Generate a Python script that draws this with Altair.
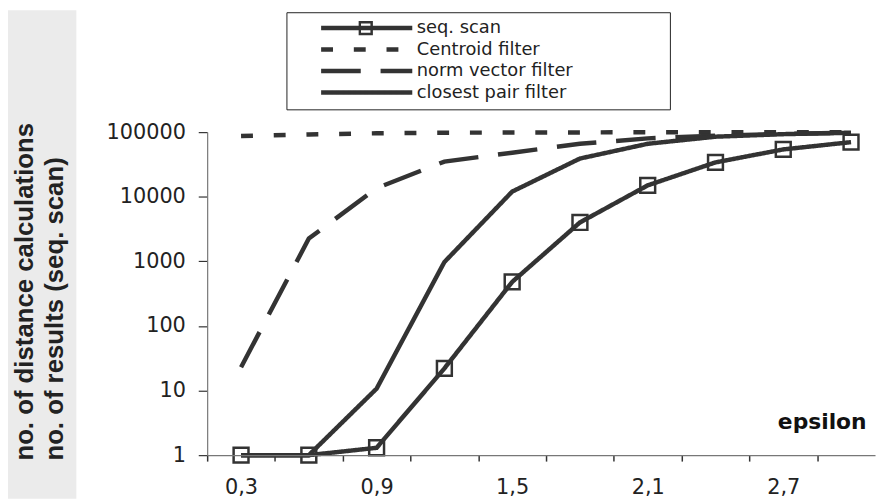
import altair as alt
import pandas as pd

# ---- data ----
x_vals = [0.3, 0.6, 0.9, 1.2, 1.5, 1.8, 2.1, 2.4, 2.7, 3.0]
seq_scan = [1, 1, 1.3, 22, 480, 4000, 15000, 34000, 54000, 70000]
centroid = [87000, 92000, 96000, 98000, 98500, 99000, 99500, 100000, 100000, 100000]
norm_vector = [23, 2250, 13600, 35000, 48000, 66000, 80000, 88000, 94000, 98000]
closest_pair = [1, 1, 10.7, 975, 12000, 39000, 66000, 85000, 93000, 98000]

series_names = ["seq. scan", "Centroid filter", "norm vector filter", "closest pair filter"]
dash_patterns = [[1, 0], [12, 21], [40, 20], [1, 0]]
y_ticks = [1, 10, 100, 1000, 10000, 100000]
x_boundaries = [0.15, 0.45, 0.75, 1.05, 1.35, 1.65, 1.95, 2.25, 2.55, 2.85]
x_label_vals = [0.3, 0.9, 1.5, 2.1, 2.7]
y_title = ["no. of distance calculations", "no. of results (seq. scan)"]
x_title = "epsilon"

rows = []
for name, vals in zip(series_names, [seq_scan, centroid, norm_vector, closest_pair]):
    for x, v in zip(x_vals, vals):
        rows.append({"epsilon": x, "value": v, "series": name})
df = pd.DataFrame(rows)
df_seq = df[df["series"] == "seq. scan"]

# ---- layout ----
W, H = 674, 326
PAD_L, PAD_T, PAD_B = 201, 123, 44
PX_PER_UNIT = 228.0
INK = "#333333"

x_scale = alt.Scale(domain=[0.15, 0.15 + W / PX_PER_UNIT], nice=False, zero=False)
y_scale = alt.Scale(type="log", domain=[1, 100000], nice=False)

center_test = "abs(datum.value*10 - round(datum.value*10)) < 0.01"
x_axis = alt.Axis(
    values=sorted(x_boundaries + x_label_vals),
    labelExpr=f"({center_test}) ? replace(format(datum.value, '.1f'), '.', ',') : ''",
    tickOpacity={"condition": {"test": center_test, "value": 0}, "value": 1},
    tickSize=6, tickColor=INK, tickWidth=1.5,
    domainColor="#777777", domainWidth=1.2,
    labelFont="DejaVu Sans", labelFontSize=21, labelColor="#222222", labelPadding=16,
    labelFlush=False, labelOverlap=False, labelBound=False,
    grid=False,
    title=x_title, titleFont="DejaVu Sans", titleFontSize=22, titleFontWeight="bold",
    titleColor="#111111", titleX=665, titleY=-27, titleAlign="right", titleBaseline="alphabetic",
    zindex=1,
)

y_axis = alt.Axis(
    values=y_ticks, format="d",
    tickSize=9, tickColor=INK, tickWidth=1.2,
    domainColor="#777777", domainWidth=1.2,
    labelFont="DejaVu Sans", labelFontSize=21, labelColor="#222222", labelPadding=13,
    grid=False,
    title=y_title, titleFont="Liberation Sans", titleFontSize=26, titleFontWeight="bold",
    titleColor="#222222", titleAngle=270, titleX=-176, titleY=331, titleAlign="left",
    titleBaseline="alphabetic", titleLineHeight=30,
    zindex=1,
)

blank = "\u2800" * 7
LEG_X, LEG_Y, LEG_PAD, SYM_OFF = 80, -121, 5.5, 27
legend = alt.Legend(
    orient="none", legendX=LEG_X, legendY=LEG_Y, title=None,
    symbolType="stroke", symbolSize=8464, symbolStrokeWidth=4.5, symbolStrokeColor=INK,
    symbolFillColor="transparent",
    symbolOffset=SYM_OFF, labelOffset=2, clipHeight=21, rowPadding=0.7,
    padding=LEG_PAD, strokeColor="#222222",
    labelFont="DejaVu Sans", labelFontSize=18, labelColor="#222222", labelLimit=500,
    labelExpr=f"datum.label + '{blank}'",
)

# small legend that only adds the square marker onto the "seq. scan" legend line
marker_legend = alt.Legend(
    orient="none", legendX=LEG_X + LEG_PAD + SYM_OFF + 46 - 6, legendY=LEG_Y + LEG_PAD + 0.5,
    title=None, padding=0, clipHeight=20,
    symbolType="square", symbolSize=144, symbolStrokeWidth=2.5, symbolStrokeColor=INK,
    symbolFillColor="transparent", labelExpr="''", labelOffset=0,
)

bg = alt.Chart(pd.DataFrame({"k": [0]})).mark_rect(color="#ebebeb").encode(
    x=alt.value(-PAD_L), x2=alt.value(-132), y=alt.value(-PAD_T), y2=alt.value(H + PAD_B)
)

lines = alt.Chart(df).mark_line(color=INK, strokeWidth=4.5, strokeCap="butt").encode(
    x=alt.X("epsilon:Q", scale=x_scale, axis=x_axis),
    y=alt.Y("value:Q", scale=y_scale, axis=y_axis),
    strokeDash=alt.StrokeDash(
        "series:N",
        scale=alt.Scale(domain=series_names, range=dash_patterns),
        legend=legend,
    ),
)

points = alt.Chart(df_seq).mark_point(
    size=225, filled=False, strokeWidth=2.5, color=INK, opacity=1
).encode(
    x=alt.X("epsilon:Q", scale=x_scale),
    y=alt.Y("value:Q", scale=y_scale),
    shape=alt.Shape(
        "series:N",
        scale=alt.Scale(domain=["seq. scan"], range=["square"]),
        legend=marker_legend,
    ),
)

chart = (
    alt.layer(bg, lines, points)
    .properties(
        width=W, height=H,
        padding={"left": PAD_L, "top": PAD_T, "right": 2, "bottom": PAD_B},
        autosize=alt.AutoSizeParams(type="none"),
        background="white",
    )
    .configure_view(stroke=None)
)

chart.save("out.html", embed_options={"renderer": "svg", "actions": False})
